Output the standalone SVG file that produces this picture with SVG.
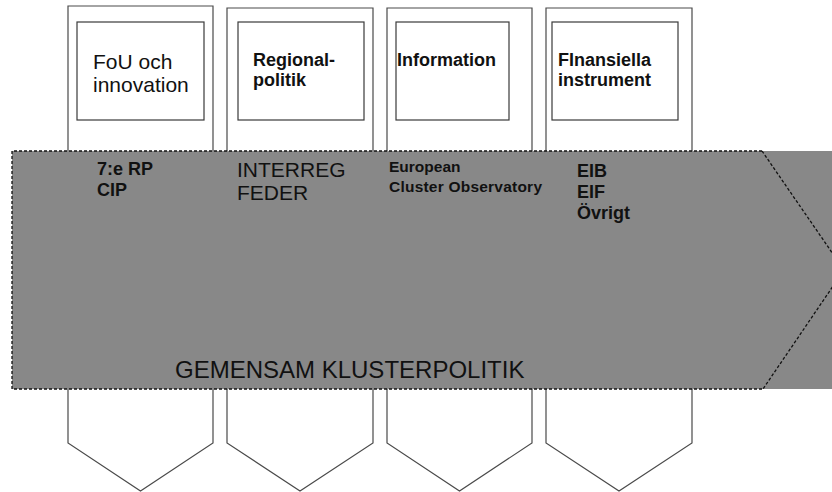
<svg xmlns="http://www.w3.org/2000/svg" width="832" height="492" viewBox="0 0 832 492">
<style>
.pent{fill:#ffffff;stroke:#4a4a4a;stroke-width:1.2}
.inner{fill:#ffffff;stroke:#3a3a3a;stroke-width:1.2}
.dash{fill:none;stroke:#111111;stroke-width:1.3;stroke-dasharray:3,2}
text{font-family:"Liberation Sans",Arial,sans-serif;fill:#111111}
.b{font-weight:bold;font-size:18px}
.r{font-size:21px}
.s{font-weight:bold;font-size:15.5px}
</style>
<rect width="832" height="492" fill="#ffffff"/>
<g id="pillar-fou">
<path class="pent" d="M68,6 L213,6 L213,443 L140.5,491 L68,443 Z"/>
</g>
<g id="pillar-regional">
<path class="pent" d="M227,8 L373,8 L373,443 L300,491 L227,443 Z"/>
</g>
<g id="pillar-information">
<path class="pent" d="M387,8 L532,8 L532,443 L459.5,491 L387,443 Z"/>
</g>
<g id="pillar-finans">
<path class="pent" d="M546,8 L692,8 L692,443 L619,491 L546,443 Z"/>
</g>
<g id="band">
<rect x="12" y="151" width="820" height="238" fill="#888888"/>
<path class="dash" d="M762,151 L12,151 L12,389 L763,389"/>
<path class="dash" d="M762,151 L844,270 L763,389"/>
<text x="175" y="378" font-size="24">GEMENSAM KLUSTERPOLITIK</text>
</g>
<g id="box-fou">
<rect class="inner" x="77" y="22" width="127" height="98"/>
<text class="r" x="93" y="69">FoU och</text>
<text class="r" x="93" y="92">innovation</text>
</g>
<g id="box-regional">
<rect class="inner" x="238" y="22" width="126" height="98"/>
<text class="b" x="253" y="66">Regional-</text>
<text class="b" x="253" y="86">politik</text>
</g>
<g id="box-information">
<rect class="inner" x="396" y="22" width="113" height="98"/>
<text class="b" x="397" y="66">Information</text>
</g>
<g id="box-finans">
<rect class="inner" x="552" y="22" width="126" height="98"/>
<text class="b" x="558" y="66">FInansiella</text>
<text class="b" x="558" y="86">instrument</text>
</g>
<g id="labels-fou">
<text class="b" x="97" y="175">7:e RP</text>
<text class="b" x="97" y="196">CIP</text>
</g>
<g id="labels-regional">
<text class="r" x="237" y="177">INTERREG</text>
<text class="r" x="237" y="200">FEDER</text>
</g>
<g id="labels-information">
<text class="s" x="389" y="172">European</text>
<text class="s" x="389" y="192" textLength="153">Cluster Observatory</text>
</g>
<g id="labels-finans">
<text class="b" x="577" y="177">EIB</text>
<text class="b" x="577" y="198">EIF</text>
<text class="b" x="577" y="219">Övrigt</text>
</g>
<g id="connectors"></g>
</svg>
